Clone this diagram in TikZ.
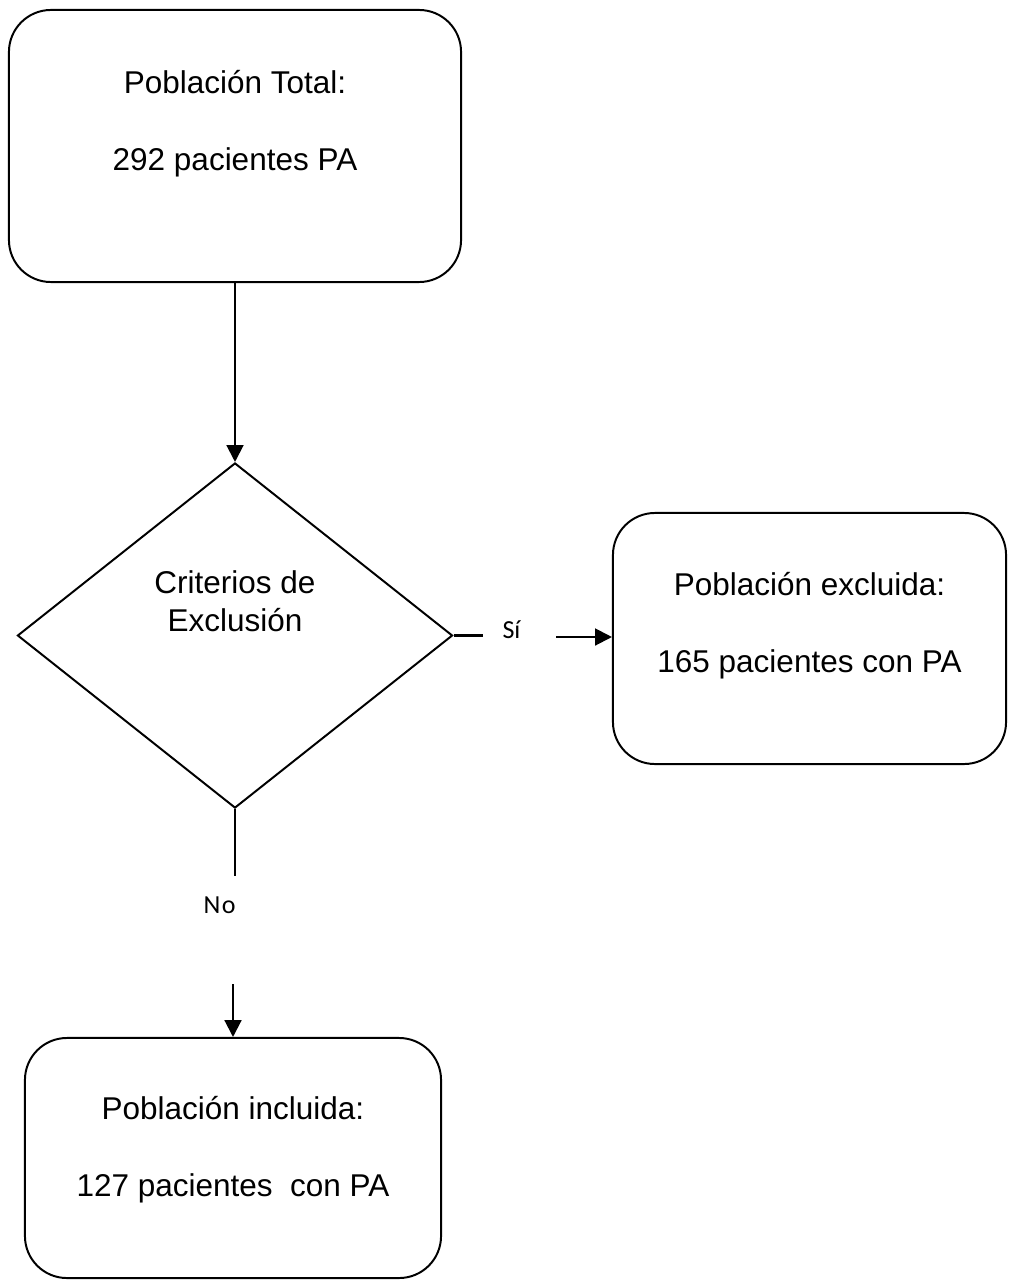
\documentclass[tikz,border=0pt]{standalone}
\usepackage{fontspec}
\setmainfont{Liberation Sans}
\newfontfamily\carlito{Carlito}
\usetikzlibrary{arrows.meta,shapes.geometric}
\newcommand{\padbelow}[1]{\rule[-#1]{0pt}{#1}}

\begin{document}
\begin{tikzpicture}[
  x=0.025cm, y=-0.025cm,
  every node/.style={font=\fontsize{22.4}{27}\selectfont},
  box/.style={draw,rounded corners=1.05cm,align=center,line width=1.4pt,inner sep=0pt},
  decision/.style={draw,diamond,align=center,line width=1.4pt,inner sep=0pt,minimum width=10.875cm,minimum height=8.625cm},
  answer/.style={font=\carlito\fontsize{18.5}{21}\selectfont,inner sep=0pt},
  line/.style={line width=1.5pt},
  arrow/.style={line,-{Triangle[length=12pt,width=12pt]}}
]
\useasboundingbox (0,0) rectangle (1008,1280);
\node[box,minimum width=11.3cm,minimum height=6.8cm] (total) at (235,146) {Población Total:\\[27.6pt]292 pacientes PA\padbelow{36pt}};
\node[decision] (excl) at (235,635.5) {Criterios de\\Exclusión\padbelow{49pt}};
\node[box,minimum width=9.825cm,minimum height=6.275cm] (excluded) at (809.5,638.5) {Población excluida:\\[27.6pt]165 pacientes con PA\padbelow{23pt}};
\node[box,minimum width=10.4cm,minimum height=6cm] (included) at (233,1158) {Población incluida:\\[27.6pt]127 pacientes\ \ con PA\padbelow{16pt}};
% answers
\node[answer] (yes) at (511.5,630) {Sí};
\node[answer] (no) at (219.5,905) {N\kern1pt o};
\coordinate (yesL) at (483,635.5);
\coordinate (yesR) at (556,637);
\coordinate (noA) at (235,876);
\coordinate (noB) at (233,984);
\draw[arrow] (total.south) -- (excl.north);
\draw[line] (excl.east) -- (yesL);
\draw[arrow] (yesR) -- (yesR -| excluded.west);
\draw[line] (excl.south) -- (noA);
\draw[arrow] (noB) -- (noB |- included.north);
\end{tikzpicture}
\end{document}
